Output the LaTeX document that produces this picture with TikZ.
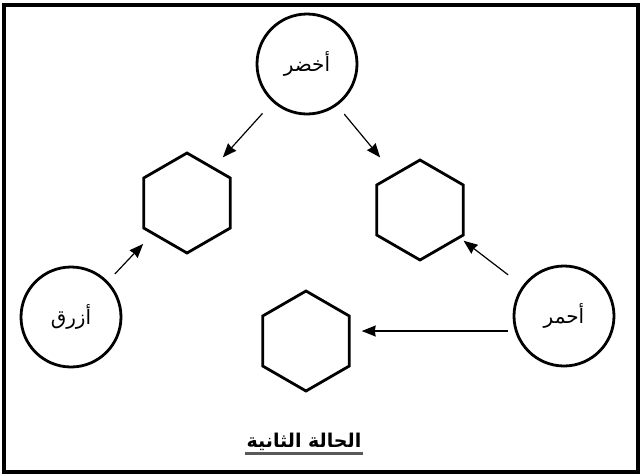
\documentclass[tikz,border=0pt]{standalone}
\usepackage{fontspec}
\newfontfamily\arabicfont[Script=Arabic]{DejaVu Sans}
\TeXXeTstate=1
\usetikzlibrary{arrows.meta,shapes.geometric}

\begin{document}
\begin{tikzpicture}[x=1pt,y=-1pt,>={Stealth[length=14pt,width=11pt,inset=1pt]},line width=1.2pt]
  \tikzstyle{colour}=[circle,draw=black,line width=2.8pt,minimum size=100pt,inner sep=0pt,font=\arabicfont\fontsize{20}{22}\selectfont]
  \tikzstyle{hexa}=[regular polygon,regular polygon sides=6,shape border rotate=30,draw=black,line width=2.8pt,minimum size=100pt,inner sep=0pt]

  \useasboundingbox (0,0) rectangle (641,475);
  \draw[line width=4pt] (4,5) rectangle (638,472);

  \node[colour] (green) at (307,64)  {\beginR أخضر\endR};
  \node[colour] (blue)  at (71,317)  {\beginR أزرق\endR};
  \node[colour] (red)   at (564,316) {\beginR أحمر\endR};

  \node[hexa] (hexL) at (187,203) {};
  \node[hexa] (hexR) at (420,210) {};
  \node[hexa] (hexB) at (306,341) {};

  \node[font=\arabicfont\bfseries\fontsize{19}{21}\selectfont,inner sep=1pt] (title) at (304,442) {\beginR الحالة الثانية\endR};
  \draw[line width=3pt,black!65] ([yshift=-1pt]title.south west) -- ([yshift=-1pt]title.south east);

  \draw[->,shorten <=15pt,shorten >=13pt] (green.228) -- (hexL.53);
  \draw[->,shorten <=11pt,shorten >=21pt] (green.306) -- (hexR.126);
  \draw[->,shorten <=10pt,shorten >=13pt] (blue.44) -- (hexL.222);
  \draw[->,shorten <=18pt,shorten >=4pt] (red.144) -- (hexR.325);
  \draw[->,shorten <=7pt,shorten >=11pt] (red.197) -- (red.197 -| hexB.east);
\end{tikzpicture}
\end{document}
